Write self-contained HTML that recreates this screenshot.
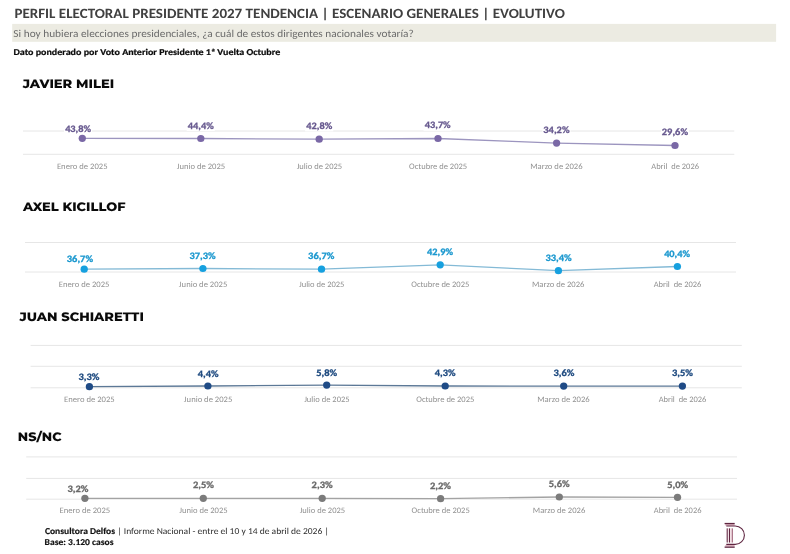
<!DOCTYPE html>
<html><head><meta charset="utf-8"><title>Perfil electoral presidente 2027</title>
<style>html,body{margin:0;padding:0;background:#fff;} body{width:790px;height:554px;overflow:hidden;} svg{display:block;filter:blur(0.35px);} text{white-space:pre;text-rendering:geometricPrecision;}</style>
</head><body>
<svg width="790" height="554" viewBox="0 0 790 554">
<rect width="790" height="554" fill="#fff"/>
<rect x="12.2" y="23.9" width="763.9" height="17.9" fill="#ecebe2"/>
<line x1="23" y1="131" x2="734.3" y2="131" stroke="#e6e6e6" stroke-width="1"/>
<line x1="23" y1="154.3" x2="734.3" y2="154.3" stroke="#e6e6e6" stroke-width="1"/>
<rect x="63.95" y="124.3" width="28.1" height="9.7" fill="#fff"/>
<rect x="186.65" y="121.3" width="28.1" height="9.7" fill="#fff"/>
<rect x="305.15" y="121.7" width="28.1" height="9.7" fill="#fff"/>
<rect x="423.55" y="121" width="28.1" height="9.7" fill="#fff"/>
<rect x="542.45" y="125.2" width="28.1" height="9.7" fill="#fff"/>
<rect x="660.95" y="127.8" width="28.1" height="9.7" fill="#fff"/>
<polyline points="82.3,138.3 200.8,138.5 319.2,139.2 438,138.5 556.6,143.1 675,145.5" fill="none" stroke="#9c95bf" stroke-width="1.3"/>
<ellipse cx="82.3" cy="138.3" rx="3.65" ry="3.6" fill="#7a68a6"/>
<ellipse cx="200.8" cy="138.5" rx="3.65" ry="3.6" fill="#7a68a6"/>
<ellipse cx="319.2" cy="139.2" rx="3.65" ry="3.6" fill="#7a68a6"/>
<ellipse cx="438" cy="138.5" rx="3.65" ry="3.6" fill="#7a68a6"/>
<ellipse cx="556.6" cy="143.1" rx="3.65" ry="3.6" fill="#7a68a6"/>
<ellipse cx="675" cy="145.5" rx="3.65" ry="3.6" fill="#7a68a6"/>
<line x1="25" y1="242.5" x2="736" y2="242.5" stroke="#e6e6e6" stroke-width="1"/>
<line x1="25" y1="272" x2="736" y2="272" stroke="#e6e6e6" stroke-width="1"/>
<rect x="65.95" y="254.5" width="28.1" height="9.7" fill="#fff"/>
<rect x="188.55" y="251.3" width="28.1" height="9.7" fill="#fff"/>
<rect x="307.25" y="251.3" width="28.1" height="9.7" fill="#fff"/>
<rect x="425.85" y="247.4" width="28.1" height="9.7" fill="#fff"/>
<rect x="544.65" y="253.2" width="28.1" height="9.7" fill="#fff"/>
<rect x="662.95" y="249.3" width="28.1" height="9.7" fill="#fff"/>
<polyline points="84.2,269.2 202.9,268.5 321.5,269.2 440.2,264.8 558.4,270.7 677.4,266.5" fill="none" stroke="#84bad6" stroke-width="1.3"/>
<ellipse cx="84.2" cy="269.2" rx="3.65" ry="3.6" fill="#16a0df"/>
<ellipse cx="202.9" cy="268.5" rx="3.65" ry="3.6" fill="#16a0df"/>
<ellipse cx="321.5" cy="269.2" rx="3.65" ry="3.6" fill="#16a0df"/>
<ellipse cx="440.2" cy="264.8" rx="3.65" ry="3.6" fill="#16a0df"/>
<ellipse cx="558.4" cy="270.7" rx="3.65" ry="3.6" fill="#16a0df"/>
<ellipse cx="677.4" cy="266.5" rx="3.65" ry="3.6" fill="#16a0df"/>
<line x1="30.6" y1="345.4" x2="741.8" y2="345.4" stroke="#e6e6e6" stroke-width="1"/>
<line x1="30.6" y1="366.3" x2="741.8" y2="366.3" stroke="#e6e6e6" stroke-width="1"/>
<line x1="30.6" y1="387.8" x2="741.8" y2="387.8" stroke="#e6e6e6" stroke-width="1"/>
<rect x="77.55" y="372.5" width="22.9" height="9.7" fill="#fff"/>
<rect x="196.65" y="369.1" width="22.9" height="9.7" fill="#fff"/>
<rect x="315.25" y="368.1" width="22.9" height="9.7" fill="#fff"/>
<rect x="433.65" y="368.6" width="22.9" height="9.7" fill="#fff"/>
<rect x="552.55" y="368.6" width="22.9" height="9.7" fill="#fff"/>
<rect x="671.15" y="368.6" width="22.9" height="9.7" fill="#fff"/>
<polyline points="89.4,386.7 207.9,386 326.7,385.1 445.2,386 563.7,386.1 682.4,386.1" fill="none" stroke="#5c7896" stroke-width="1.3"/>
<ellipse cx="89.4" cy="386.7" rx="3.65" ry="3.6" fill="#1f4b86"/>
<ellipse cx="207.9" cy="386" rx="3.65" ry="3.6" fill="#1f4b86"/>
<ellipse cx="326.7" cy="385.1" rx="3.65" ry="3.6" fill="#1f4b86"/>
<ellipse cx="445.2" cy="386" rx="3.65" ry="3.6" fill="#1f4b86"/>
<ellipse cx="563.7" cy="386.1" rx="3.65" ry="3.6" fill="#1f4b86"/>
<ellipse cx="682.4" cy="386.1" rx="3.65" ry="3.6" fill="#1f4b86"/>
<line x1="26.2" y1="456.9" x2="737" y2="456.9" stroke="#e6e6e6" stroke-width="1"/>
<line x1="26.2" y1="478.4" x2="737" y2="478.4" stroke="#e6e6e6" stroke-width="1"/>
<line x1="26.2" y1="499.2" x2="737" y2="499.2" stroke="#e6e6e6" stroke-width="1"/>
<rect x="66.55" y="484.3" width="22.9" height="9.7" fill="#fff"/>
<rect x="192.05" y="480.6" width="22.9" height="9.7" fill="#fff"/>
<rect x="310.75" y="480.6" width="22.9" height="9.7" fill="#fff"/>
<rect x="429.15" y="481.1" width="22.9" height="9.7" fill="#fff"/>
<rect x="547.85" y="479.4" width="22.9" height="9.7" fill="#fff"/>
<rect x="666.25" y="480.3" width="22.9" height="9.7" fill="#fff"/>
<polyline points="84.9,498.3 203.3,498.3 322.2,498.3 440.6,498.7 559.3,497 677.5,497.3" fill="none" stroke="#a3a3a3" stroke-width="1.3"/>
<ellipse cx="84.9" cy="498.3" rx="3.65" ry="3.6" fill="#7b7b7b"/>
<ellipse cx="203.3" cy="498.3" rx="3.65" ry="3.6" fill="#7b7b7b"/>
<ellipse cx="322.2" cy="498.3" rx="3.65" ry="3.6" fill="#7b7b7b"/>
<ellipse cx="440.6" cy="498.7" rx="3.65" ry="3.6" fill="#7b7b7b"/>
<ellipse cx="559.3" cy="497" rx="3.65" ry="3.6" fill="#7b7b7b"/>
<ellipse cx="677.5" cy="497.3" rx="3.65" ry="3.6" fill="#7b7b7b"/>
<text x="14.45" y="17.9" font-family="Carlito, 'Liberation Sans', sans-serif" font-weight="700" font-size="14.1" fill="#404040" textLength="550.4" lengthAdjust="spacingAndGlyphs">PERFIL ELECTORAL PRESIDENTE 2027 TENDENCIA | ESCENARIO GENERALES | EVOLUTIVO</text>
<text x="13.37" y="36.8" font-family="Carlito, 'Liberation Sans', sans-serif" font-weight="400" font-size="10.6" fill="#6c6c6c" textLength="400.43" lengthAdjust="spacingAndGlyphs">Si hoy hubiera elecciones presidenciales, ¿a cuál de estos dirigentes nacionales votaría?</text>
<text x="13.5" y="54.9" font-family="Carlito, 'Liberation Sans', sans-serif" font-weight="700" font-size="9" fill="#0a0a0a" stroke="#0a0a0a" stroke-width="0.2" textLength="266.74" lengthAdjust="spacingAndGlyphs">Dato ponderado por Voto Anterior Presidente 1ª Vuelta Octubre</text>
<text x="22.76" y="88.2" font-family="Montserrat, 'Liberation Sans', sans-serif" font-weight="800" font-size="12.3" fill="#0a0a0a" textLength="91.44" lengthAdjust="spacingAndGlyphs">JAVIER MILEI</text>
<text x="23.06" y="210.6" font-family="Montserrat, 'Liberation Sans', sans-serif" font-weight="800" font-size="12.3" fill="#0a0a0a" textLength="102.43" lengthAdjust="spacingAndGlyphs">AXEL KICILLOF</text>
<text x="19.46" y="320.6" font-family="Montserrat, 'Liberation Sans', sans-serif" font-weight="800" font-size="12.3" fill="#0a0a0a" textLength="124.34" lengthAdjust="spacingAndGlyphs">JUAN SCHIARETTI</text>
<text x="17.8" y="440.8" font-family="Montserrat, 'Liberation Sans', sans-serif" font-weight="800" font-size="12.3" fill="#0a0a0a" textLength="43.73" lengthAdjust="spacingAndGlyphs">NS/NC</text>
<text x="44.91" y="533.5" font-family="Carlito, 'Liberation Sans', sans-serif" font-weight="700" font-size="9" fill="#111111" stroke="#111111" stroke-width="0.15" textLength="70.17" lengthAdjust="spacingAndGlyphs">Consultora Delfos</text>
<text x="117.19" y="533.5" font-family="Carlito, 'Liberation Sans', sans-serif" font-weight="400" font-size="9" fill="#2e2e2e" textLength="211.63" lengthAdjust="spacingAndGlyphs">| Informe Nacional - entre el 10 y 14 de abril de 2026 |</text>
<text x="44.62" y="545.3" font-family="Carlito, 'Liberation Sans', sans-serif" font-weight="700" font-size="9" fill="#111111" stroke="#111111" stroke-width="0.15" textLength="68.86" lengthAdjust="spacingAndGlyphs">Base: 3.120 casos</text>
<text x="65.15" y="131.7" font-family="Carlito, 'Liberation Sans', sans-serif" font-weight="700" font-size="9.8" fill="#67598f" stroke="#67598f" stroke-width="0.3" textLength="25.9" lengthAdjust="spacingAndGlyphs">43,8%</text>
<text x="187.85" y="128.7" font-family="Carlito, 'Liberation Sans', sans-serif" font-weight="700" font-size="9.8" fill="#67598f" stroke="#67598f" stroke-width="0.3" textLength="25.9" lengthAdjust="spacingAndGlyphs">44,4%</text>
<text x="306.35" y="129.1" font-family="Carlito, 'Liberation Sans', sans-serif" font-weight="700" font-size="9.8" fill="#67598f" stroke="#67598f" stroke-width="0.3" textLength="25.9" lengthAdjust="spacingAndGlyphs">42,8%</text>
<text x="424.75" y="128.4" font-family="Carlito, 'Liberation Sans', sans-serif" font-weight="700" font-size="9.8" fill="#67598f" stroke="#67598f" stroke-width="0.3" textLength="25.9" lengthAdjust="spacingAndGlyphs">43,7%</text>
<text x="543.34" y="132.6" font-family="Carlito, 'Liberation Sans', sans-serif" font-weight="700" font-size="9.8" fill="#67598f" stroke="#67598f" stroke-width="0.3" textLength="26.21" lengthAdjust="spacingAndGlyphs">34,2%</text>
<text x="661.84" y="135.2" font-family="Carlito, 'Liberation Sans', sans-serif" font-weight="700" font-size="9.8" fill="#67598f" stroke="#67598f" stroke-width="0.3" textLength="26.21" lengthAdjust="spacingAndGlyphs">29,6%</text>
<text x="56.9" y="168.5" font-family="Carlito, 'Liberation Sans', sans-serif" font-weight="400" font-size="8.4" fill="#929292" textLength="50.69" lengthAdjust="spacingAndGlyphs">Enero de 2025</text>
<text x="176.76" y="168.5" font-family="Carlito, 'Liberation Sans', sans-serif" font-weight="400" font-size="8.4" fill="#929292" textLength="48.48" lengthAdjust="spacingAndGlyphs">Junio de 2025</text>
<text x="296.66" y="168.5" font-family="Carlito, 'Liberation Sans', sans-serif" font-weight="400" font-size="8.4" fill="#929292" textLength="45.47" lengthAdjust="spacingAndGlyphs">Julio de 2025</text>
<text x="409.04" y="168.5" font-family="Carlito, 'Liberation Sans', sans-serif" font-weight="400" font-size="8.4" fill="#929292" textLength="58.14" lengthAdjust="spacingAndGlyphs">Octubre de 2025</text>
<text x="530.16" y="168.5" font-family="Carlito, 'Liberation Sans', sans-serif" font-weight="400" font-size="8.4" fill="#929292" textLength="52.42" lengthAdjust="spacingAndGlyphs">Marzo de 2026</text>
<text x="651.25" y="168.5" font-family="Carlito, 'Liberation Sans', sans-serif" font-weight="400" font-size="8.4" fill="#929292" textLength="47.73" lengthAdjust="spacingAndGlyphs" xml:space="preserve">Abril  de 2026</text>
<text x="66.84" y="261.9" font-family="Carlito, 'Liberation Sans', sans-serif" font-weight="700" font-size="9.8" fill="#1b98cf" stroke="#1b98cf" stroke-width="0.3" textLength="26.21" lengthAdjust="spacingAndGlyphs">36,7%</text>
<text x="189.44" y="258.7" font-family="Carlito, 'Liberation Sans', sans-serif" font-weight="700" font-size="9.8" fill="#1b98cf" stroke="#1b98cf" stroke-width="0.3" textLength="26.21" lengthAdjust="spacingAndGlyphs">37,3%</text>
<text x="308.14" y="258.7" font-family="Carlito, 'Liberation Sans', sans-serif" font-weight="700" font-size="9.8" fill="#1b98cf" stroke="#1b98cf" stroke-width="0.3" textLength="26.21" lengthAdjust="spacingAndGlyphs">36,7%</text>
<text x="427.05" y="254.8" font-family="Carlito, 'Liberation Sans', sans-serif" font-weight="700" font-size="9.8" fill="#1b98cf" stroke="#1b98cf" stroke-width="0.3" textLength="25.9" lengthAdjust="spacingAndGlyphs">42,9%</text>
<text x="545.54" y="260.6" font-family="Carlito, 'Liberation Sans', sans-serif" font-weight="700" font-size="9.8" fill="#1b98cf" stroke="#1b98cf" stroke-width="0.3" textLength="26.21" lengthAdjust="spacingAndGlyphs">33,4%</text>
<text x="664.15" y="256.7" font-family="Carlito, 'Liberation Sans', sans-serif" font-weight="700" font-size="9.8" fill="#1b98cf" stroke="#1b98cf" stroke-width="0.3" textLength="25.9" lengthAdjust="spacingAndGlyphs">40,4%</text>
<text x="58.8" y="286.5" font-family="Carlito, 'Liberation Sans', sans-serif" font-weight="400" font-size="8.4" fill="#929292" textLength="50.69" lengthAdjust="spacingAndGlyphs">Enero de 2025</text>
<text x="178.86" y="286.5" font-family="Carlito, 'Liberation Sans', sans-serif" font-weight="400" font-size="8.4" fill="#929292" textLength="48.48" lengthAdjust="spacingAndGlyphs">Junio de 2025</text>
<text x="298.96" y="286.5" font-family="Carlito, 'Liberation Sans', sans-serif" font-weight="400" font-size="8.4" fill="#929292" textLength="45.47" lengthAdjust="spacingAndGlyphs">Julio de 2025</text>
<text x="411.24" y="286.5" font-family="Carlito, 'Liberation Sans', sans-serif" font-weight="400" font-size="8.4" fill="#929292" textLength="58.14" lengthAdjust="spacingAndGlyphs">Octubre de 2025</text>
<text x="531.96" y="286.5" font-family="Carlito, 'Liberation Sans', sans-serif" font-weight="400" font-size="8.4" fill="#929292" textLength="52.42" lengthAdjust="spacingAndGlyphs">Marzo de 2026</text>
<text x="653.65" y="286.5" font-family="Carlito, 'Liberation Sans', sans-serif" font-weight="400" font-size="8.4" fill="#929292" textLength="47.73" lengthAdjust="spacingAndGlyphs" xml:space="preserve">Abril  de 2026</text>
<text x="78.43" y="379.9" font-family="Carlito, 'Liberation Sans', sans-serif" font-weight="700" font-size="9.8" fill="#1f4b80" stroke="#1f4b80" stroke-width="0.3" textLength="21.01" lengthAdjust="spacingAndGlyphs">3,3%</text>
<text x="197.85" y="376.5" font-family="Carlito, 'Liberation Sans', sans-serif" font-weight="700" font-size="9.8" fill="#1f4b80" stroke="#1f4b80" stroke-width="0.3" textLength="20.7" lengthAdjust="spacingAndGlyphs">4,4%</text>
<text x="316.24" y="375.5" font-family="Carlito, 'Liberation Sans', sans-serif" font-weight="700" font-size="9.8" fill="#1f4b80" stroke="#1f4b80" stroke-width="0.3" textLength="20.91" lengthAdjust="spacingAndGlyphs">5,8%</text>
<text x="434.85" y="376" font-family="Carlito, 'Liberation Sans', sans-serif" font-weight="700" font-size="9.8" fill="#1f4b80" stroke="#1f4b80" stroke-width="0.3" textLength="20.7" lengthAdjust="spacingAndGlyphs">4,3%</text>
<text x="553.43" y="376" font-family="Carlito, 'Liberation Sans', sans-serif" font-weight="700" font-size="9.8" fill="#1f4b80" stroke="#1f4b80" stroke-width="0.3" textLength="21.01" lengthAdjust="spacingAndGlyphs">3,6%</text>
<text x="672.03" y="376" font-family="Carlito, 'Liberation Sans', sans-serif" font-weight="700" font-size="9.8" fill="#1f4b80" stroke="#1f4b80" stroke-width="0.3" textLength="21.01" lengthAdjust="spacingAndGlyphs">3,5%</text>
<text x="64" y="401.7" font-family="Carlito, 'Liberation Sans', sans-serif" font-weight="400" font-size="8.4" fill="#929292" textLength="50.69" lengthAdjust="spacingAndGlyphs">Enero de 2025</text>
<text x="183.86" y="401.7" font-family="Carlito, 'Liberation Sans', sans-serif" font-weight="400" font-size="8.4" fill="#929292" textLength="48.48" lengthAdjust="spacingAndGlyphs">Junio de 2025</text>
<text x="304.16" y="401.7" font-family="Carlito, 'Liberation Sans', sans-serif" font-weight="400" font-size="8.4" fill="#929292" textLength="45.47" lengthAdjust="spacingAndGlyphs">Julio de 2025</text>
<text x="416.24" y="401.7" font-family="Carlito, 'Liberation Sans', sans-serif" font-weight="400" font-size="8.4" fill="#929292" textLength="58.14" lengthAdjust="spacingAndGlyphs">Octubre de 2025</text>
<text x="537.26" y="401.7" font-family="Carlito, 'Liberation Sans', sans-serif" font-weight="400" font-size="8.4" fill="#929292" textLength="52.42" lengthAdjust="spacingAndGlyphs">Marzo de 2026</text>
<text x="658.65" y="401.7" font-family="Carlito, 'Liberation Sans', sans-serif" font-weight="400" font-size="8.4" fill="#929292" textLength="47.73" lengthAdjust="spacingAndGlyphs" xml:space="preserve">Abril  de 2026</text>
<text x="67.43" y="491.7" font-family="Carlito, 'Liberation Sans', sans-serif" font-weight="700" font-size="9.8" fill="#6a6a6a" stroke="#6a6a6a" stroke-width="0.3" textLength="21.01" lengthAdjust="spacingAndGlyphs">3,2%</text>
<text x="192.93" y="488" font-family="Carlito, 'Liberation Sans', sans-serif" font-weight="700" font-size="9.8" fill="#6a6a6a" stroke="#6a6a6a" stroke-width="0.3" textLength="21.01" lengthAdjust="spacingAndGlyphs">2,5%</text>
<text x="311.63" y="488" font-family="Carlito, 'Liberation Sans', sans-serif" font-weight="700" font-size="9.8" fill="#6a6a6a" stroke="#6a6a6a" stroke-width="0.3" textLength="21.01" lengthAdjust="spacingAndGlyphs">2,3%</text>
<text x="430.03" y="488.5" font-family="Carlito, 'Liberation Sans', sans-serif" font-weight="700" font-size="9.8" fill="#6a6a6a" stroke="#6a6a6a" stroke-width="0.3" textLength="21.01" lengthAdjust="spacingAndGlyphs">2,2%</text>
<text x="548.84" y="486.8" font-family="Carlito, 'Liberation Sans', sans-serif" font-weight="700" font-size="9.8" fill="#6a6a6a" stroke="#6a6a6a" stroke-width="0.3" textLength="20.91" lengthAdjust="spacingAndGlyphs">5,6%</text>
<text x="667.24" y="487.7" font-family="Carlito, 'Liberation Sans', sans-serif" font-weight="700" font-size="9.8" fill="#6a6a6a" stroke="#6a6a6a" stroke-width="0.3" textLength="20.91" lengthAdjust="spacingAndGlyphs">5,0%</text>
<text x="59.5" y="512.7" font-family="Carlito, 'Liberation Sans', sans-serif" font-weight="400" font-size="8.4" fill="#929292" textLength="50.69" lengthAdjust="spacingAndGlyphs">Enero de 2025</text>
<text x="179.26" y="512.7" font-family="Carlito, 'Liberation Sans', sans-serif" font-weight="400" font-size="8.4" fill="#929292" textLength="48.48" lengthAdjust="spacingAndGlyphs">Junio de 2025</text>
<text x="299.66" y="512.7" font-family="Carlito, 'Liberation Sans', sans-serif" font-weight="400" font-size="8.4" fill="#929292" textLength="45.47" lengthAdjust="spacingAndGlyphs">Julio de 2025</text>
<text x="411.64" y="512.7" font-family="Carlito, 'Liberation Sans', sans-serif" font-weight="400" font-size="8.4" fill="#929292" textLength="58.14" lengthAdjust="spacingAndGlyphs">Octubre de 2025</text>
<text x="532.86" y="512.7" font-family="Carlito, 'Liberation Sans', sans-serif" font-weight="400" font-size="8.4" fill="#929292" textLength="52.42" lengthAdjust="spacingAndGlyphs">Marzo de 2026</text>
<text x="653.75" y="512.7" font-family="Carlito, 'Liberation Sans', sans-serif" font-weight="400" font-size="8.4" fill="#929292" textLength="47.73" lengthAdjust="spacingAndGlyphs" xml:space="preserve">Abril  de 2026</text>
<g>
<rect x="725.4" y="524.1" width="9.2" height="1.6" fill="#dcaebc"/>
<rect x="725.4" y="544.9" width="9.2" height="1.5" fill="#dcaebc"/>
<rect x="726.6" y="528.2" width="6.0" height="14.4" fill="#f3e1e6"/>
<rect x="724.6" y="522.9" width="10.1" height="1.3" fill="#5e2540"/>
<rect x="724.6" y="546.5" width="10.1" height="1.3" fill="#5e2540"/>
<path d="M726.3 526.0 H735.2 A9.2 9.2 0 0 1 735.2 544.4 H726.3" fill="none" stroke="#5e2540" stroke-width="1.1"/>
<rect x="726.7" y="528.4" width="1.0" height="14.1" fill="#5e2540"/>
<rect x="729.0" y="528.4" width="1.0" height="14.1" fill="#5e2540"/>
<rect x="731.8" y="528.4" width="1.0" height="14.1" fill="#9a5a72"/>
</g>
</svg>
</body></html>
